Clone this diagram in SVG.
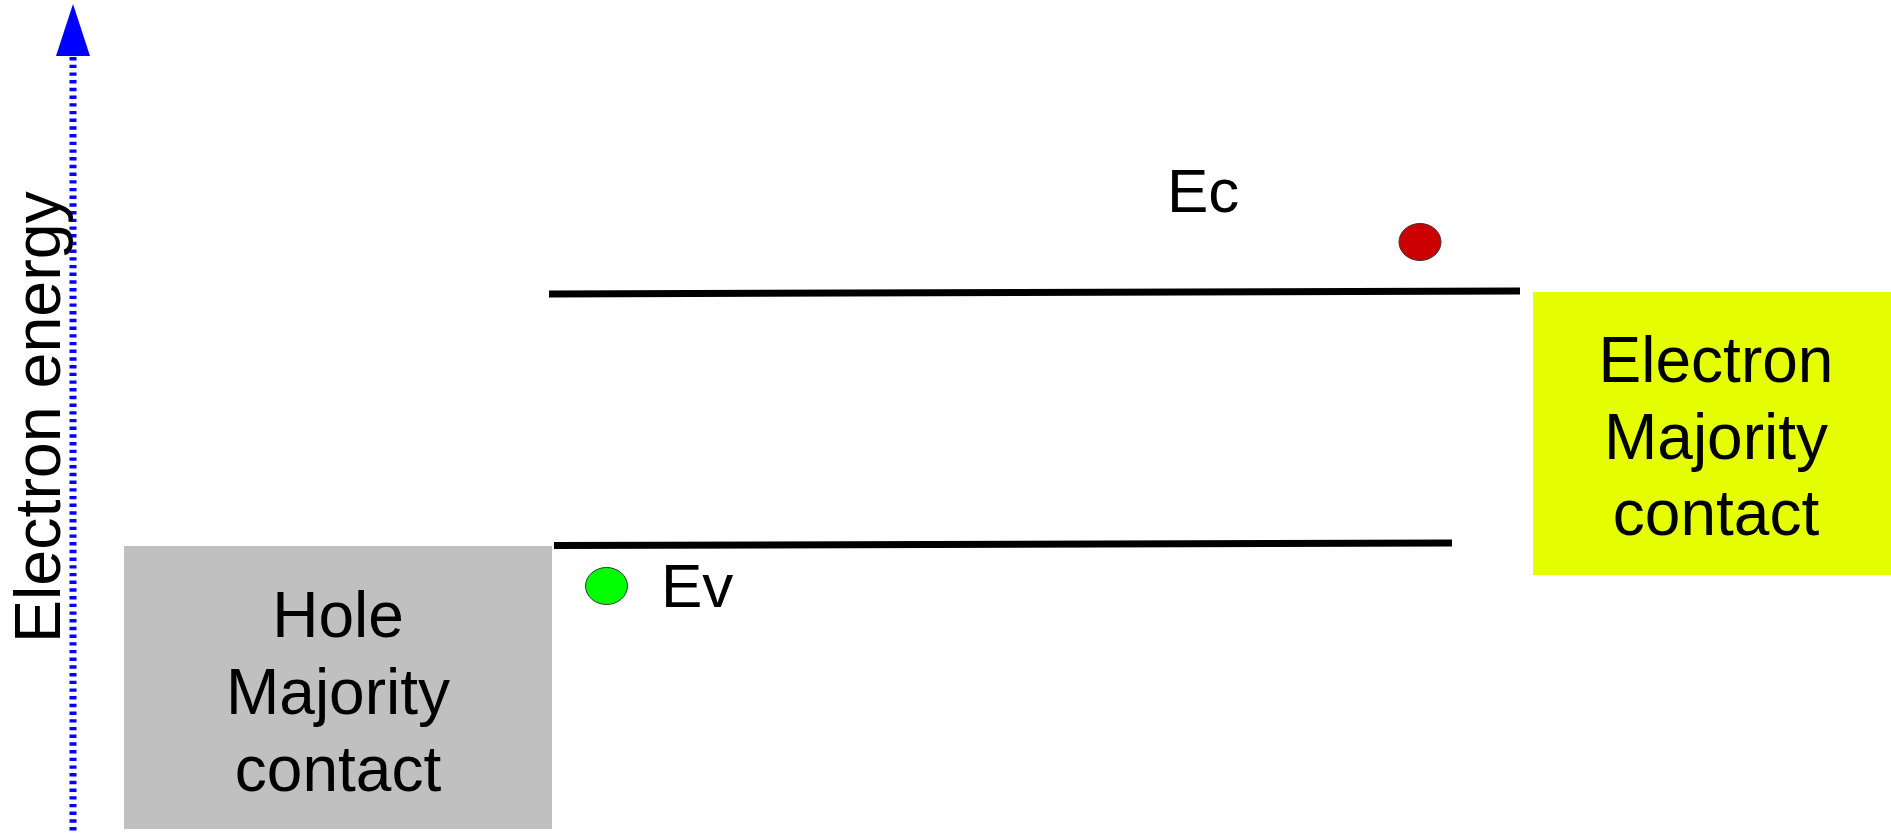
<svg xmlns="http://www.w3.org/2000/svg" width="1891" height="834" viewBox="0 0 1891 834">
  <style>
    text { font-family: "Liberation Sans", Arial, sans-serif; fill: #000000; }
    .label { font-size: 62px; }
    .box-text { font-size: 64px; text-anchor: middle; }
    .axis-text { font-size: 64.5px; }
    .band { stroke: #000000; stroke-width: 7; fill: none; }
    .carrier { stroke: #333333; stroke-width: 1; }
  </style>
  <rect x="0" y="0" width="1891" height="834" fill="#ffffff"/>

  <!-- energy axis -->
  <g id="energy-axis">
    <line x1="73" y1="57" x2="73" y2="834" stroke="#0000ff" stroke-width="7" stroke-dasharray="3.4 4.3"/>
    <polygon points="73,4 56,56 90,56" fill="#0000ff"/>
    <text class="axis-text" transform="translate(60,643) rotate(-90)">Electron energy</text>
  </g>

  <!-- band edges -->
  <g id="connectors">
    <line id="conduction-band" class="band" x1="549" y1="294" x2="1520" y2="291"/>
    <line id="valence-band" class="band" x1="554" y1="545.5" x2="1452" y2="543"/>
  </g>

  <g id="ec-label">
    <text class="label" x="1167" y="212">Ec</text>
  </g>
  <g id="ev-label">
    <text class="label" x="661" y="607">Ev</text>
  </g>

  <g id="electron">
    <ellipse class="carrier" cx="1420" cy="242" rx="21" ry="18.5" fill="#cc0000"/>
  </g>
  <g id="hole">
    <ellipse class="carrier" cx="606.5" cy="586" rx="21" ry="18.5" fill="#00ff00"/>
  </g>

  <g id="hole-contact">
    <rect x="124" y="546" width="428" height="283" fill="#c0c0c0"/>
    <text class="box-text" x="338" y="636.5">Hole</text>
    <text class="box-text" x="338" y="714">Majority</text>
    <text class="box-text" x="338" y="790.5">contact</text>
  </g>

  <g id="electron-contact">
    <rect x="1533" y="292" width="366" height="283" fill="#e6ff00"/>
    <text class="box-text" x="1716" y="381.5">Electron</text>
    <text class="box-text" x="1716" y="458.5">Majority</text>
    <text class="box-text" x="1716" y="535">contact</text>
  </g>
</svg>
